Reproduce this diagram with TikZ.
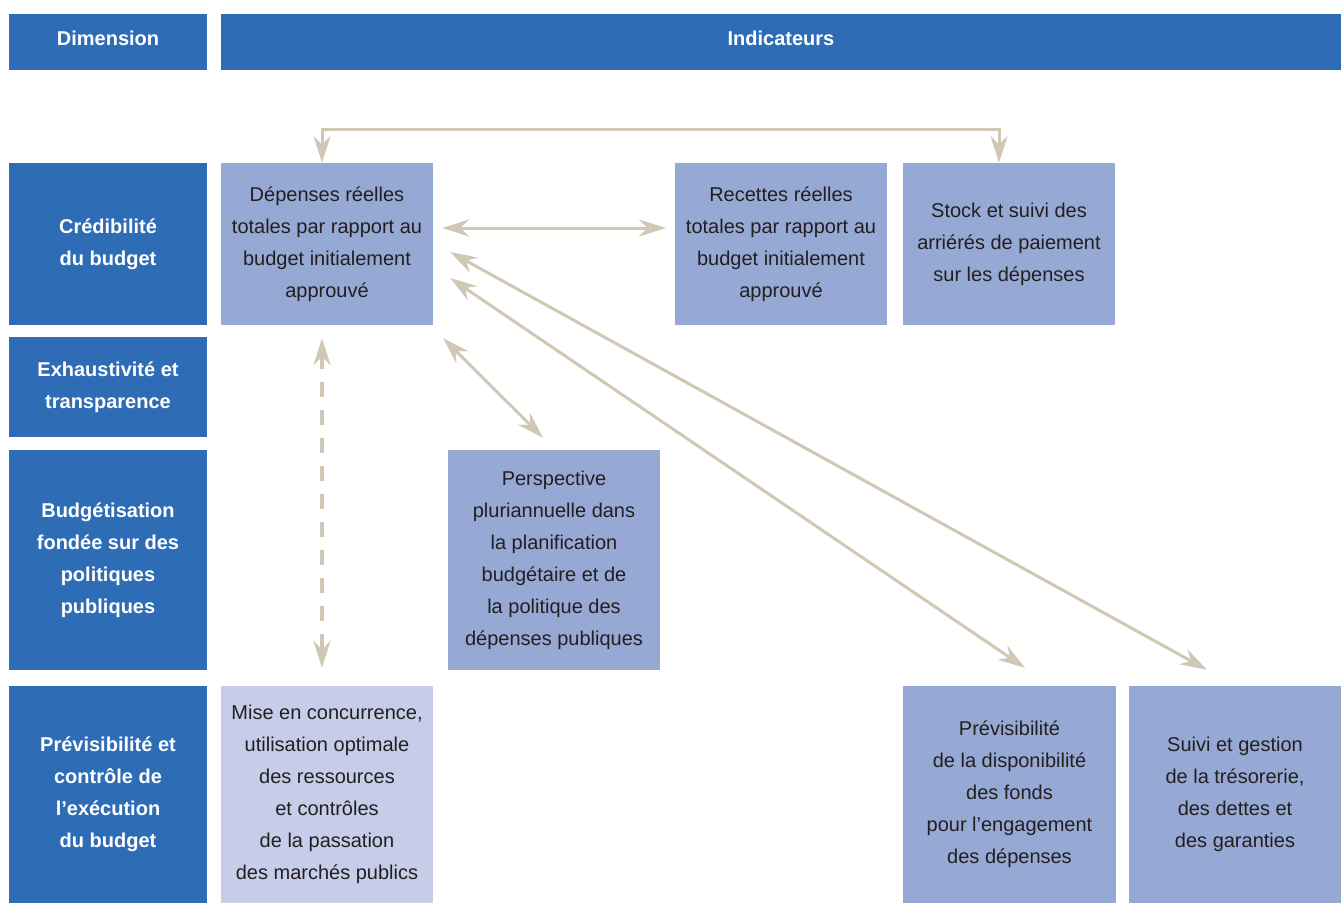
\documentclass[tikz,border=0pt]{standalone}
\usepackage{fontspec}
\setmainfont{Liberation Sans}
\usetikzlibrary{arrows.meta}
\definecolor{dimblue}{HTML}{2E6DB5}
\definecolor{indblue}{HTML}{96A9D4}
\definecolor{indlight}{HTML}{C5CDE8}
\definecolor{arrowtan}{HTML}{D1C7B5}
\definecolor{txtdark}{HTML}{231F20}
\begin{document}
\begin{tikzpicture}[x=1pt,y=-1pt,
  dimbox/.style={fill=dimblue,text=white,inner sep=0pt,align=center,
    font=\fontsize{20}{32}\selectfont\bfseries,minimum width=198pt},
  indbox/.style={fill=indblue,text=txtdark,inner sep=0pt,align=center,
    font=\fontsize{20}{32}\selectfont,minimum width=212pt},
  arr/.style={draw=arrowtan,line width=3pt,
    arrows={Stealth[length=27pt,width=17pt,inset=9pt]-Stealth[length=27pt,width=17pt,inset=9pt]}},
  dasharr/.style={arr,line width=4.5pt,dash pattern=on 15pt off 13pt}
]
\useasboundingbox (0,0) rectangle (1344,903);
% headers
\node[dimbox,minimum height=56pt,text depth=8pt] (hdim) at (108,42) {Dimension};
\node[dimbox,minimum width=1120pt,minimum height=56pt,text depth=8pt] (hind) at (781,42) {Indicateurs};
% dimensions
\node[dimbox,minimum height=162pt] (d1) at (108,244) {Crédibilité\\du budget};
\node[dimbox,minimum height=100pt] (d2) at (108,387) {Exhaustivité et\\transparence};
\node[dimbox,minimum height=220pt] (d3) at (108,560) {Budgétisation\\fondée sur des\\politiques\\publiques};
\node[dimbox,minimum height=217pt] (d4) at (108,794.5) {Prévisibilité et\\contrôle de\\l’exécution\\du budget};
% indicators
\node[indbox,minimum height=162pt] (dep) at (327,244) {Dépenses réelles\\totales par rapport au\\budget initialement\\approuvé};
\node[indbox,minimum height=162pt] (rec) at (781,244) {Recettes réelles\\totales par rapport au\\budget initialement\\approuvé};
\node[indbox,minimum height=162pt] (stock) at (1009,244) {Stock et suivi des\\arriérés de paiement\\sur les dépenses};
\node[indbox,minimum height=220pt] (persp) at (554,560) {Perspective\\pluriannuelle dans\\la planification\\budgétaire et de\\la politique des\\dépenses publiques};
\node[indbox,fill=indlight,minimum height=217pt] (mise) at (327,794.5) {Mise en concurrence,\\utilisation optimale\\des ressources\\et contrôles\\de la passation\\des marchés publics};
\node[indbox,minimum width=213pt,minimum height=217pt] (prev) at (1009.5,794.5) {Prévisibilité\\de la disponibilité\\des fonds\\pour l’engagement\\des dépenses};
\node[indbox,minimum height=217pt] (suivi) at (1235,794.5) {Suivi et gestion\\de la trésorerie,\\des dettes et\\des garanties};
% connectors
\draw[arr] ([xshift=-5pt]dep.north) -- ++(0,-33) -| ([xshift=-10pt]stock.north);
\draw[arr] ([xshift=9pt,yshift=16pt]dep.east) -- ([xshift=-9pt,yshift=16pt]rec.west);
\draw[arr] ([xshift=10pt,yshift=-13pt]dep.south east) -- ([xshift=-11pt,yshift=12pt]persp.north);
\draw[arr] ([xshift=17pt,yshift=-34pt]dep.east) -- ([xshift=15.5pt,yshift=18pt]prev.north);
\draw[arr] ([xshift=17pt,yshift=-8pt]dep.east) -- ([xshift=-28pt,yshift=16pt]suivi.north);
\draw[dasharr] ([xshift=-5pt,yshift=-13pt]dep.south) -- ([xshift=-5pt,yshift=18pt]mise.north);
\end{tikzpicture}
\end{document}
